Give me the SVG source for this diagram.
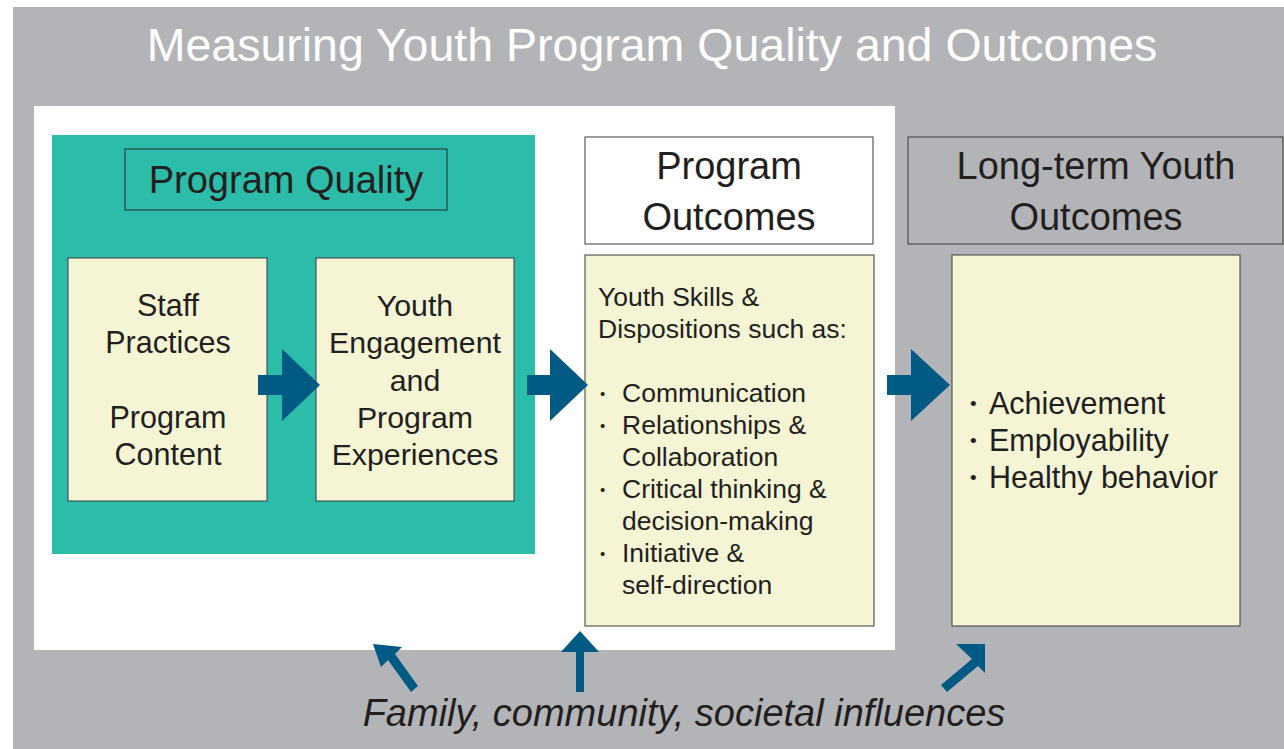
<svg xmlns="http://www.w3.org/2000/svg" width="1284" height="749" viewBox="0 0 1284 749">
<style>
text { font-family: "Liberation Sans", Arial, sans-serif; fill: #231f20; }
.box { fill: #f5f5d6; stroke: #3a3a3a; stroke-width: 1; }
.c { text-anchor: middle; }
.arr { fill: #005a84; }
.b1 { font-size: 15px; }
.b2 { font-size: 19px; }
</style>
<rect x="0" y="0" width="1284" height="749" fill="#ffffff"/>
<rect x="13" y="7" width="1271" height="742" fill="#b3b4b8"/>
<text x="652" y="61" class="c" font-size="46.5" style="fill:#ffffff">Measuring Youth Program Quality and Outcomes</text>
<rect x="34" y="106" width="861" height="544" fill="#ffffff"/>
<g id="program-quality">
<rect x="52" y="135" width="483" height="419" fill="#2bbcaa"/>
<rect x="125" y="149" width="322" height="61" fill="none" stroke="#2a2a2a" stroke-width="1"/>
<text x="286" y="193" class="c" font-size="38">Program Quality</text>
</g>
<g id="staff">
<rect class="box" x="68" y="258" width="199" height="243"/>
<text class="c" font-size="30.5"><tspan x="168" y="316">Staff</tspan><tspan x="168" y="353">Practices</tspan><tspan x="168" y="428">Program</tspan><tspan x="168" y="465">Content</tspan></text>
</g>
<g id="engagement">
<rect class="box" x="316" y="258" width="198" height="243"/>
<text class="c" font-size="30.3"><tspan x="415" y="316">Youth</tspan><tspan x="415" y="353">Engagement</tspan><tspan x="415" y="391">and</tspan><tspan x="415" y="428">Program</tspan><tspan x="415" y="465">Experiences</tspan></text>
</g>
<g id="program-outcomes">
<rect x="585" y="137" width="288" height="107" fill="#ffffff" stroke="#3a3a3a" stroke-width="1"/>
<text class="c" font-size="38"><tspan x="729" y="179">Program</tspan><tspan x="729" y="230">Outcomes</tspan></text>
<rect class="box" x="585" y="255" width="289" height="371"/>
<text font-size="26.5"><tspan x="598" y="306">Youth Skills &amp;</tspan><tspan x="598" y="338">Dispositions such as:</tspan></text>
<text class="b1"><tspan x="600" y="399">•</tspan><tspan x="600" y="431">•</tspan><tspan x="600" y="495">•</tspan><tspan x="600" y="559">•</tspan></text>
<text font-size="26.5">
<tspan x="622" y="402">Communication</tspan>
<tspan x="622" y="434">Relationships &amp;</tspan>
<tspan x="622" y="466">Collaboration</tspan>
<tspan x="622" y="498">Critical thinking &amp;</tspan>
<tspan x="622" y="530">decision-making</tspan>
<tspan x="622" y="562">Initiative &amp;</tspan>
<tspan x="622" y="594">self-direction</tspan>
</text>
</g>
<g id="long-term">
<rect x="908" y="137" width="375" height="107" fill="#b3b4b8" stroke="#3a3a3a" stroke-width="1"/>
<text class="c" font-size="38"><tspan x="1096" y="179">Long-term Youth</tspan><tspan x="1096" y="230">Outcomes</tspan></text>
<rect class="box" x="952" y="255" width="288" height="371"/>
<text class="b2"><tspan x="970" y="410">•</tspan><tspan x="970" y="447">•</tspan><tspan x="970" y="484">•</tspan></text>
<text font-size="30.5">
<tspan x="989" y="414">Achievement</tspan>
<tspan x="989" y="451">Employability</tspan>
<tspan x="989" y="488">Healthy behavior</tspan>
</text>
</g>
<g id="influences">
<text x="684" y="726" class="c" font-size="38" font-style="italic">Family, community, societal influences</text>
</g>
<g id="connectors">
<path class="arr" d="M258,375 H282 V349 L320,385 L282,421 V395 H258 Z"/>
<path class="arr" d="M527,375 H550 V349 L588,385 L550,421 V395 H527 Z"/>
<path class="arr" d="M887,375 H911 V349 L950,385 L911,421 V395 H887 Z"/>
<path class="arr" d="M373,644 L402,647 L395,654 L418,686 L411,692 L388,660 L381,667 Z"/>
<path class="arr" d="M580,631 L599,652 L584,652 L584,692 L576,692 L576,652 L561,652 Z"/>
<path class="arr" d="M985,644 L985,673 L978,666 L947,692 L941,685 L972,659 L956,644 Z"/>
</g>
</svg>
